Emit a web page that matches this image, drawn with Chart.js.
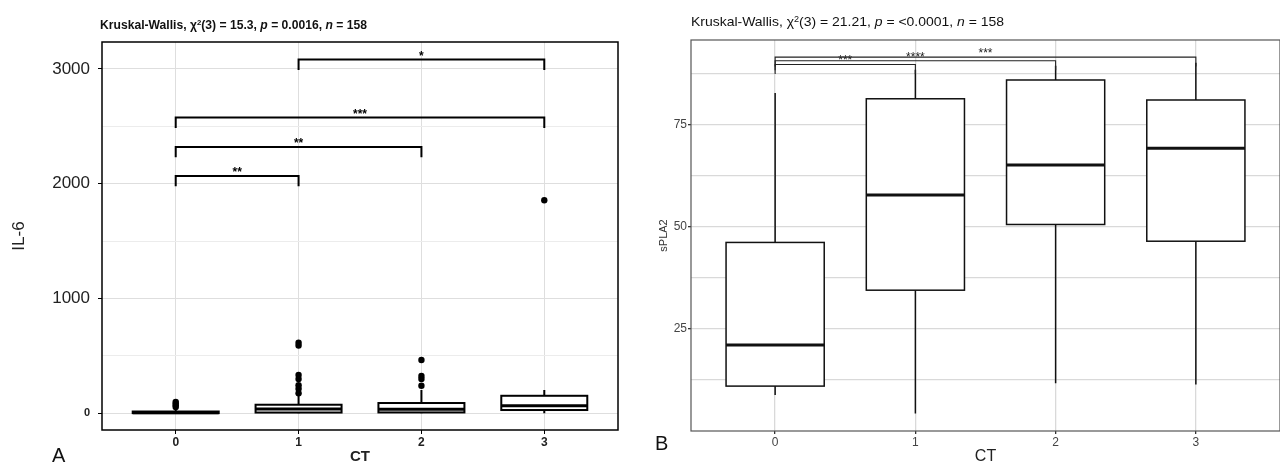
<!DOCTYPE html>
<html>
<head>
<meta charset="utf-8">
<script src="https://cdn.jsdelivr.net/npm/chart.js@4.4.1/dist/chart.umd.min.js"></script>
<style>
  html, body { margin: 0; padding: 0; background: #fff; }
  body { width: 1280px; height: 466px; position: relative; overflow: hidden; font-family: 'Liberation Sans', Arial, sans-serif; }
  canvas { position: absolute; top: 0; }
  #chartA { left: 0; }
  #chartB { left: 640px; }
  .ttl { position: absolute; white-space: nowrap; line-height: 1; color: #111; transform-origin: 0 0; }
  .ttl sup { font-size: 65%; vertical-align: 0.45em; line-height: 0; }
  .tag { position: absolute; font-size: 20px; line-height: 1; color: #111; }
</style>
</head>
<body>
<canvas id="chartA" width="640" height="466"></canvas>
<canvas id="chartB" width="640" height="466"></canvas>
<div class="ttl" data-w="267" style="left:100px; top:19px; font-size:12.5px; font-weight:bold;">Kruskal-Wallis, χ<sup>2</sup>(3) = 15.3, <i>p</i> = 0.0016, <i>n</i> = 158</div>
<div class="ttl" data-w="313" style="left:691px; top:15px; font-size:13.5px;">Kruskal-Wallis, χ<sup>2</sup>(3) = 21.21, <i>p</i> = &lt;0.0001, <i>n</i> = 158</div>
<div class="tag" style="left:52px; top:445px;">A</div>
<div class="tag" style="left:655px; top:433px;">B</div>
<script>
// CT groups
var ctLabels = ['0', '1', '2', '3'];

// panel A - IL-6 box stats
var il6Min = [0, 0, 0, 0];
var il6Q1 = [2, 7, 8, 29];
var il6Median = [6, 38, 35, 66];
var il6Q3 = [16, 75, 90, 153];
var il6Max = [40, 160, 203, 203];
var il6Outliers = [[55, 70, 85, 100], [615, 590, 335, 300, 245, 215, 175], [464, 325, 300, 240], [1856]];
var il6Ticks = [0, 1000, 2000, 3000];
var il6Minor = [500, 1500, 2500];
var il6Pairs = [[0, 1], [0, 2], [0, 3], [1, 3]];
var il6PairY = [2068, 2320, 2576, 3081];
var il6Stars = ['**', '**', '***', '*'];

// panel B - sPLA2 box stats
var splaMin = [8.8, 4.3, 11.7, 11.4];
var splaQ1 = [11.0, 34.5, 50.6, 46.5];
var splaMedian = [21.1, 57.8, 65.2, 69.3];
var splaQ3 = [46.2, 81.4, 86.0, 81.1];
var splaMax = [82.8, 88.5, 89.5, 90.2];
var splaTicks = [25, 50, 75];
var splaMinor = [12.5, 37.5, 62.5, 87.5];
var splaPairs = [[0, 1], [0, 2], [0, 3]];
var splaPairY = [89.8, 90.7, 91.6];
var splaStars = ['***', '****', '***'];

Chart.defaults.font.family = "'Liberation Sans', Arial, sans-serif";

// fit the html titles to the width they have in the figure
document.querySelectorAll('.ttl').forEach(function (el) {
    var w = +el.getAttribute('data-w');
    el.style.transform = 'scaleX(' + (w / el.getBoundingClientRect().width) + ')';
});

function toPoints(groups) {
    var pts = [];
    groups.forEach(function (vals, i) {
        vals.forEach(function (v) { pts.push({ x: i, y: v }); });
    });
    return pts;
}

function tickList(major, minor) {
    return major.concat(minor).sort(function (a, b) { return a - b; })
        .map(function (v) { return { value: v }; });
}

// box + whiskers, drawn under the outlier points
function boxesPlugin(s) {
    return {
        id: 'boxes',
        beforeDatasetsDraw: function (chart) {
            var ctx = chart.ctx, x = chart.scales.x, y = chart.scales.y;
            ctx.save();
            ctx.strokeStyle = s.color;
            ctx.fillStyle = '#fff';
            s.q1.forEach(function (q1, i) {
                var xc = x.getPixelForValue(i);
                var xl = x.getPixelForValue(i - s.width / 2);
                var xr = x.getPixelForValue(i + s.width / 2);
                var y1 = y.getPixelForValue(q1);
                var y3 = y.getPixelForValue(s.q3[i]);
                ctx.lineWidth = s.lineWidth;
                ctx.beginPath();
                ctx.moveTo(xc, y.getPixelForValue(s.max[i]));
                ctx.lineTo(xc, y3);
                ctx.moveTo(xc, y1);
                ctx.lineTo(xc, y.getPixelForValue(s.min[i]));
                ctx.stroke();
                ctx.fillRect(xl, y3, xr - xl, y1 - y3);
                ctx.strokeRect(xl, y3, xr - xl, y1 - y3);
                var ym = y.getPixelForValue(s.median[i]);
                ctx.lineWidth = s.medianWidth;
                ctx.beginPath();
                ctx.moveTo(xl, ym);
                ctx.lineTo(xr, ym);
                ctx.stroke();
            });
            ctx.restore();
        }
    };
}

// significance brackets
function bracketsPlugin(s) {
    return {
        id: 'brackets',
        afterDatasetsDraw: function (chart) {
            var ctx = chart.ctx, x = chart.scales.x, y = chart.scales.y;
            ctx.save();
            ctx.strokeStyle = s.color;
            ctx.fillStyle = s.color;
            ctx.lineWidth = s.lineWidth;
            ctx.font = s.font;
            ctx.textAlign = 'center';
            ctx.textBaseline = 'alphabetic';
            s.pairs.forEach(function (p, i) {
                var xa = x.getPixelForValue(p[0]), xb = x.getPixelForValue(p[1]);
                var yt = y.getPixelForValue(s.level[i]);
                var yb = y.getPixelForValue(s.level[i] - s.tip);
                ctx.beginPath();
                ctx.moveTo(xa, yb);
                ctx.lineTo(xa, yt);
                ctx.lineTo(xb, yt);
                ctx.lineTo(xb, yb);
                ctx.stroke();
                ctx.fillText(s.labels[i], (xa + xb) / 2, yt + s.gap);
            });
            ctx.restore();
        }
    };
}

function framePlugin(color, width) {
    return {
        id: 'frame',
        afterDatasetsDraw: function (chart) {
            var a = chart.chartArea, ctx = chart.ctx;
            ctx.save();
            ctx.strokeStyle = color;
            ctx.lineWidth = width;
            ctx.strokeRect(a.left, a.top, a.right - a.left, a.bottom - a.top);
            ctx.restore();
        }
    };
}

// Panel A
// ------------------------------
new Chart(document.getElementById('chartA'), {
    type: 'scatter',
    data: {
        datasets: [{
            data: toPoints(il6Outliers),
            pointRadius: 3.2,
            pointHoverRadius: 3.2,
            backgroundColor: '#000',
            borderColor: '#000',
            borderWidth: 0
        }]
    },
    options: {
        responsive: false,
        animation: false,
        events: [],
        layout: { padding: { left: 0, top: 42, right: 22, bottom: 0 } },
        plugins: { legend: { display: false }, tooltip: { enabled: false } },
        scales: {
            x: {
                type: 'linear', min: -0.6, max: 3.6,
                afterBuildTicks: function (sc) { sc.ticks = ctLabels.map(function (c, i) { return { value: i }; }); },
                afterFit: function (sc) { sc.height = 36; },
                border: { display: false },
                grid: { color: '#dedede', tickColor: '#000', tickLength: 4 },
                ticks: { callback: function (v) { return ctLabels[v]; }, font: { size: 12, weight: 'bold' }, color: '#222', padding: 1.5, maxRotation: 0 },
                title: { display: true, text: 'CT', font: { size: 15, weight: 'bold' }, color: '#222', padding: 0 }
            },
            y: {
                type: 'linear', min: -145, max: 3234,
                afterBuildTicks: function (sc) { sc.ticks = tickList(il6Ticks, il6Minor); },
                afterFit: function (sc) { sc.width = 102; },
                border: { display: false },
                grid: {
                    color: function (c) { return c.tick && il6Ticks.indexOf(c.tick.value) < 0 ? '#ececec' : '#dedede'; },
                    tickColor: function (c) { return c.tick && il6Ticks.indexOf(c.tick.value) < 0 ? 'rgba(0,0,0,0)' : '#000'; },
                    tickLength: 4
                },
                ticks: {
                    callback: function (v) { return il6Ticks.indexOf(v) >= 0 ? String(v) : ''; },
                    font: function (c) { return c.tick && c.tick.value === 0 ? { size: 11, weight: 'bold' } : { size: 17 }; },
                    color: '#222',
                    padding: 8
                },
                title: { display: true, text: 'IL-6', font: { size: 17 }, color: '#222', padding: { top: 9, bottom: 0 } }
            }
        }
    },
    plugins: [
        boxesPlugin({ min: il6Min, q1: il6Q1, median: il6Median, q3: il6Q3, max: il6Max, width: 0.7, lineWidth: 2, medianWidth: 3, color: '#000' }),
        framePlugin('#000', 1.5),
        bracketsPlugin({ pairs: il6Pairs, level: il6PairY, labels: il6Stars, tip: 90, lineWidth: 2, color: '#000', font: 'bold 12px "Liberation Sans", Arial, sans-serif', gap: 0 })
    ]
});

// Panel B
// ------------------------------
new Chart(document.getElementById('chartB'), {
    type: 'scatter',
    data: { datasets: [{ data: [], pointRadius: 0 }] },
    options: {
        responsive: false,
        animation: false,
        events: [],
        layout: { padding: { left: 0, top: 40, right: 0, bottom: 0 } },
        plugins: { legend: { display: false }, tooltip: { enabled: false } },
        scales: {
            x: {
                type: 'linear', min: -0.6, max: 3.6,
                afterBuildTicks: function (sc) { sc.ticks = ctLabels.map(function (c, i) { return { value: i }; }); },
                afterFit: function (sc) { sc.height = 35; },
                border: { display: false },
                grid: { color: '#d9d9d9', lineWidth: 1.3, tickColor: '#333', tickLength: 3 },
                ticks: { callback: function (v) { return ctLabels[v]; }, font: { size: 12 }, color: '#444', padding: 1, maxRotation: 0 },
                title: { display: true, text: 'CT', font: { size: 16 }, color: '#222', padding: 0 }
            },
            y: {
                type: 'linear', min: 0, max: 95.8,
                afterBuildTicks: function (sc) { sc.ticks = tickList(splaTicks, splaMinor); },
                afterFit: function (sc) { sc.width = 51; },
                border: { display: false },
                grid: {
                    color: '#d9d9d9',
                    lineWidth: 1.3,
                    tickColor: function (c) { return c.tick && splaTicks.indexOf(c.tick.value) < 0 ? 'rgba(0,0,0,0)' : '#333'; },
                    tickLength: 3
                },
                ticks: {
                    callback: function (v) { return splaTicks.indexOf(v) >= 0 ? String(v) : ''; },
                    font: { size: 12 },
                    color: '#444',
                    padding: 1
                },
                title: { display: true, text: 'sPLA2', font: { size: 11 }, color: '#333', padding: { top: 17, bottom: 0 } }
            }
        }
    },
    plugins: [
        boxesPlugin({ min: splaMin, q1: splaQ1, median: splaMedian, q3: splaQ3, max: splaMax, width: 0.7, lineWidth: 1.5, medianWidth: 3, color: '#111' }),
        framePlugin('#555', 1.2),
        bracketsPlugin({ pairs: splaPairs, level: splaPairY, labels: splaStars, tip: 2.3, lineWidth: 1.1, color: '#222', font: '12px "Liberation Sans", Arial, sans-serif', gap: 0 })
    ]
});
</script>
</body>
</html>
